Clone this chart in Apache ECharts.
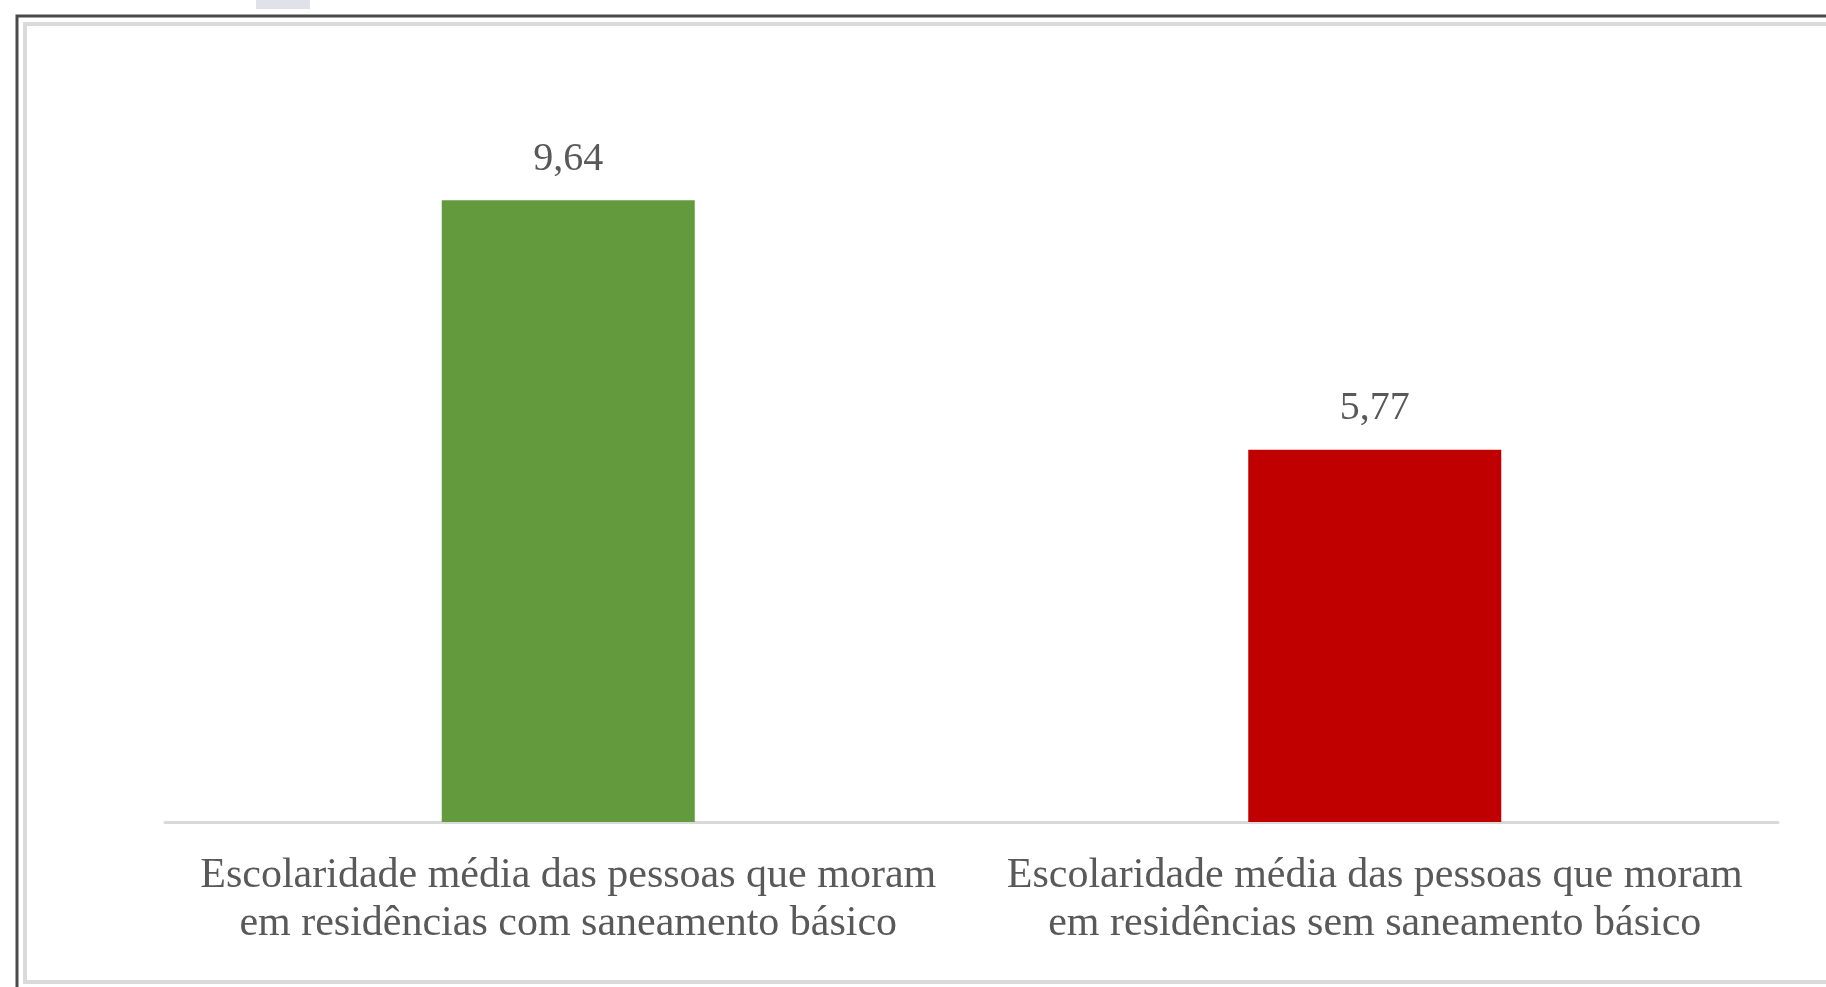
<!DOCTYPE html>
<html>
<head>
<meta charset="utf-8">
<script src="https://cdn.jsdelivr.net/npm/echarts@6/dist/echarts.min.js"></script>
<style>
  html, body { margin: 0; padding: 0; background: #ffffff; }
  #chart { width: 1826px; height: 987px; }
</style>
</head>
<body>
<div id="chart"></div>
<script>
// Average years of schooling, by access to basic sanitation
const categories = [
  'Escolaridade média das pessoas que moram\nem residências com saneamento básico',
  'Escolaridade média das pessoas que moram\nem residências sem saneamento básico'
];
const values = [9.64, 5.77];
const barColors = ['#639a3d', '#c00000'];

const textColor = '#595959';
const fontFamily = '"Liberation Serif", "DejaVu Serif", serif';

const chart = echarts.init(document.getElementById('chart'));

chart.setOption({
  backgroundColor: '#ffffff',
  animation: false,
  graphic: [
    // small tab above the frame
    { type: 'rect', shape: { x: 256, y: 0, width: 54, height: 9 }, style: { fill: '#dfe2e8' } },
    // inner light frame line
    { type: 'rect', shape: { x: 25, y: 24, width: 1840, height: 958 },
      style: { fill: 'none', stroke: '#dadada', lineWidth: 4 } },
    // outer dark frame line
    { type: 'rect', shape: { x: 17, y: 16, width: 1850, height: 1000 },
      style: { fill: 'none', stroke: '#4a4a4a', lineWidth: 3 } }
  ],
  grid: { left: 165, right: 48, top: 48, bottom: 165 },
  xAxis: {
    type: 'category',
    data: categories,
    axisLine: { show: true, lineStyle: { color: '#d9d9d9', width: 3 } },
    axisTick: { show: false },
    axisLabel: {
      interval: 0,
      margin: 30,
      color: textColor,
      fontFamily: fontFamily,
      fontSize: 42,
      lineHeight: 48,
      align: 'center'
    }
  },
  yAxis: {
    type: 'value',
    min: 0,
    max: 12,
    show: false,
    splitLine: { show: false }
  },
  series: [{
    type: 'bar',
    data: values.map((v, i) => ({ value: v, itemStyle: { color: barColors[i] } })),
    barWidth: 253,
    label: {
      show: true,
      position: 'top',
      distance: 21,
      color: textColor,
      fontFamily: fontFamily,
      fontSize: 40,
      formatter: p => p.value.toFixed(2).replace('.', ',')
    }
  }]
});
</script>
</body>
</html>
